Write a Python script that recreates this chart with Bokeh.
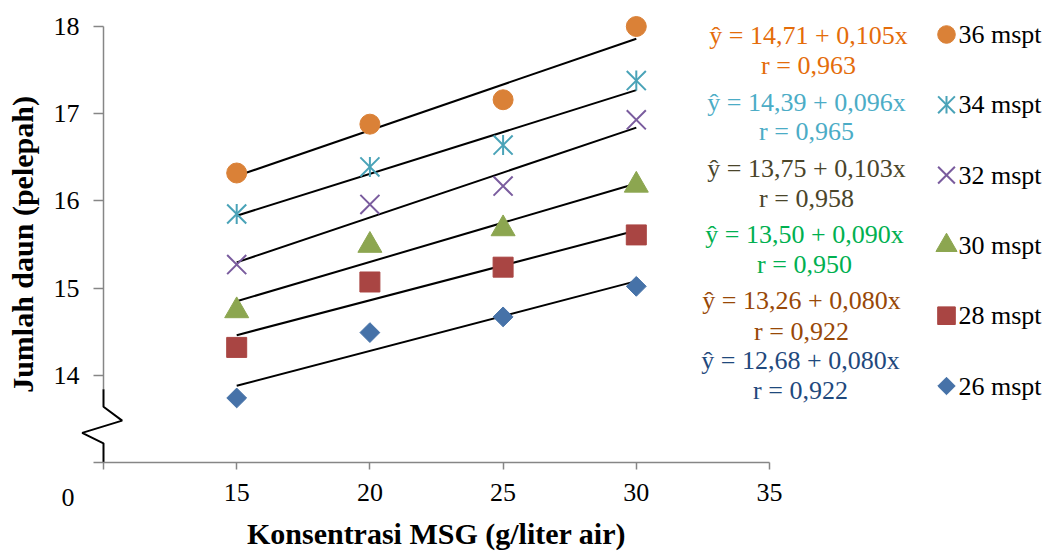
import numpy as np
from bokeh.plotting import figure
from bokeh.models import (Range1d, FixedTicker, Label, LinearAxis, ColumnDataSource)
from bokeh.embed import file_html
from bokeh.resources import INLINE

# ---------------- data ----------------
x_vals = [15, 20, 25, 30]
series_names = ["36 mspt", "34 mspt", "32 mspt", "30 mspt", "28 mspt", "26 mspt"]
y36 = [16.32, 16.88, 17.16, 18.00]
y34 = [15.85, 16.39, 16.64, 17.38]
y32 = [15.27, 15.96, 16.17, 16.93]
y30 = [14.74, 15.49, 15.68, 16.18]
y28 = [14.32, 15.07, 15.24, 15.61]
y26 = [13.74, 14.49, 14.67, 15.02]
intercepts = [14.71, 14.39, 13.75, 13.50, 13.26, 12.68]
slopes = [0.105, 0.096, 0.103, 0.090, 0.080, 0.080]
r_values = ["0,963", "0,965", "0,958", "0,950", "0,922", "0,922"]
x_ticks = [10, 15, 20, 25, 30, 35]
y_ticks = [13, 14, 15, 16, 17, 18]
x_title = "Konsentrasi MSG (g/liter air)"
y_title = "Jumlah daun (pelepah)"

series_y = [y36, y34, y32, y30, y28, y26]

# ---------------- style / layout ----------------
FONT = "Liberation Serif"
GRAY = "#868686"
marker_colors = ["#DA8137", "#4AA3B8", "#7A5C9E", "#8CA650", "#A94543", "#4672A8"]
eq_colors = ["#E46C0A", "#4BACC6", "#4A452A", "#00B050", "#984807", "#1F497D"]

W, H = 1047, 551
AX_L, AX_T, AX_R, AX_B = 103, 26, 769, 462     # page pixels of the axes box
kx = (AX_R - AX_L) / (x_ticks[-1] - x_ticks[0])
ky = (AX_B - AX_T) / (y_ticks[-1] - y_ticks[0])
xr = Range1d(x_ticks[0] - AX_L / kx, x_ticks[-1] + (W - AX_R) / kx)
yr = Range1d(y_ticks[0] - (H - AX_B) / ky, y_ticks[-1] + AX_T / ky)


def px_to_data(px, py):
    return xr.start + px / kx, yr.end - py / ky


p = figure(width=W, height=H, output_backend="svg", toolbar_location=None,
           x_range=xr, y_range=yr, x_axis_type=None, y_axis_type=None,
           min_border=0)
p.outline_line_color = None
p.background_fill_color = "white"
p.border_fill_color = "white"

# x axis (fixed at y = 13, limited to 10..35)
xa = LinearAxis(fixed_location=y_ticks[0], bounds=(x_ticks[0], x_ticks[-1]))
xa.ticker = FixedTicker(ticks=x_ticks)
xa.major_label_overrides = {x_ticks[0]: ""}
xa.axis_line_color = GRAY
xa.axis_line_width = 1.5
xa.major_tick_line_color = GRAY
xa.major_tick_line_width = 1.5
xa.major_tick_out = 7
xa.major_tick_in = 0
xa.minor_tick_line_color = None
xa.major_label_text_font = FONT
xa.major_label_text_font_size = "26px"
xa.major_label_text_color = "black"
xa.major_label_standoff = 14
xa.axis_label = x_title
xa.axis_label_text_font = FONT
xa.axis_label_text_font_style = "bold"
xa.axis_label_text_font_size = "30px"
xa.axis_label_text_color = "black"
xa.axis_label_standoff = 13
p.add_layout(xa, "below")

# y axis (fixed at x = 10, limited to 13..18)
ya = LinearAxis(fixed_location=x_ticks[0], bounds=(y_ticks[0], y_ticks[-1]))
ya.ticker = FixedTicker(ticks=y_ticks)
ya.major_label_overrides = {y_ticks[0]: ""}
ya.axis_line_color = None
ya.major_tick_line_color = GRAY
ya.major_tick_line_width = 1.5
ya.major_tick_out = 10
ya.major_tick_in = 0
ya.minor_tick_line_color = None
ya.major_label_text_font = FONT
ya.major_label_text_font_size = "26px"
ya.major_label_text_color = "black"
ya.major_label_standoff = 14
ya.axis_label = y_title
ya.axis_label_text_font = FONT
ya.axis_label_text_font_style = "bold"
ya.axis_label_text_font_size = "30px"
ya.axis_label_text_color = "black"
ya.axis_label_standoff = 12
p.add_layout(ya, "left")

# y axis line with a break (zigzag) near the bottom
y0, y1 = y_ticks[0], y_ticks[-1]
x0 = x_ticks[0]
brk_top = y0 + 0.84
p.segment(x0=[x0], y0=[y1], x1=[x0], y1=[brk_top], line_color=GRAY, line_width=1.5)
zx = [x0, x0, x0 + 0.70, x0 - 0.80, x0, x0]
zy = [brk_top, y0 + 0.64, y0 + 0.48, y0 + 0.34, y0 + 0.22, y0]
p.line(zx, zy, line_color="black", line_width=2)

# regression lines
xl = np.array([x_vals[0], x_vals[-1]], dtype=float)
for a, b in zip(intercepts, slopes):
    p.line(xl, a + b * xl, line_color="black", line_width=2)


# scatter series (+ legend icons drawn with the same styles)
def draw_markers(i, source, s):
    c = marker_colors[i]
    if i == 0:
        p.scatter("x", "y", source=source, marker="circle", size=20 * s, fill_color=c, line_color=c)
    elif i == 1:
        p.scatter("x", "y", source=source, marker="x", size=27 * s, line_color=c, line_width=2)
        p.scatter("x", "y", source=source, marker="dash", size=20 * s, angle=np.pi / 2,
                  line_color=c, line_width=2)
    elif i == 2:
        p.scatter("x", "y", source=source, marker="x", size=27 * s, line_color=c, line_width=2)
    elif i == 3:
        p.scatter("x", "y", source=source, marker="triangle", size=24 * s, fill_color=c, line_color=c)
    elif i == 4:
        p.scatter("x", "y", source=source, marker="square", size=20 * s, fill_color=c, line_color=c)
    else:
        p.scatter("x", "y", source=source, marker="square", size=14 * s, angle=np.pi / 4,
                  fill_color=c, line_color=c)


for i, ys in enumerate(series_y):
    draw_markers(i, ColumnDataSource(dict(x=x_vals, y=ys)), 1.0)

# legend (icon + label per series)
LEG_ICON_X, LEG_TEXT_X, LEG_TOP, LEG_PITCH = 946, 958, 34, 70.3
for i, name in enumerate(series_names):
    cy = LEG_TOP + i * LEG_PITCH
    lx, ly = px_to_data(LEG_ICON_X, cy)
    draw_markers(i, ColumnDataSource(dict(x=[lx], y=[ly])), 0.88)
    p.add_layout(Label(x=LEG_TEXT_X, y=H - cy, x_units="screen", y_units="screen",
                       text=name, text_align="left", text_baseline="middle",
                       text_font=FONT, text_font_size="26px", text_color="black"))

# regression equations
eq_x = [808, 806, 806, 804, 801, 800]
eq_mid = [35, 102, 168, 234, 300, 360]
r_mid = [65, 131, 198, 264, 331, 390]
for i in range(6):
    a_s = f"{intercepts[i]:.2f}".replace(".", ",")
    b_s = f"{slopes[i]:.3f}".replace(".", ",")
    for txt, ym in ((f"ŷ = {a_s} + {b_s}x", eq_mid[i]), (f"r = {r_values[i]}", r_mid[i])):
        p.add_layout(Label(x=eq_x[i], y=H - ym, x_units="screen", y_units="screen",
                           text=txt, text_align="center", text_baseline="middle",
                           text_font=FONT, text_font_size="26px", text_color=eq_colors[i]))

# origin label
p.add_layout(Label(x=67.5, y=H - 497, x_units="screen", y_units="screen", text="0",
                   text_align="center", text_baseline="middle",
                   text_font=FONT, text_font_size="26px", text_color="black"))

open("out.html", "w").write(file_html(p, INLINE))
